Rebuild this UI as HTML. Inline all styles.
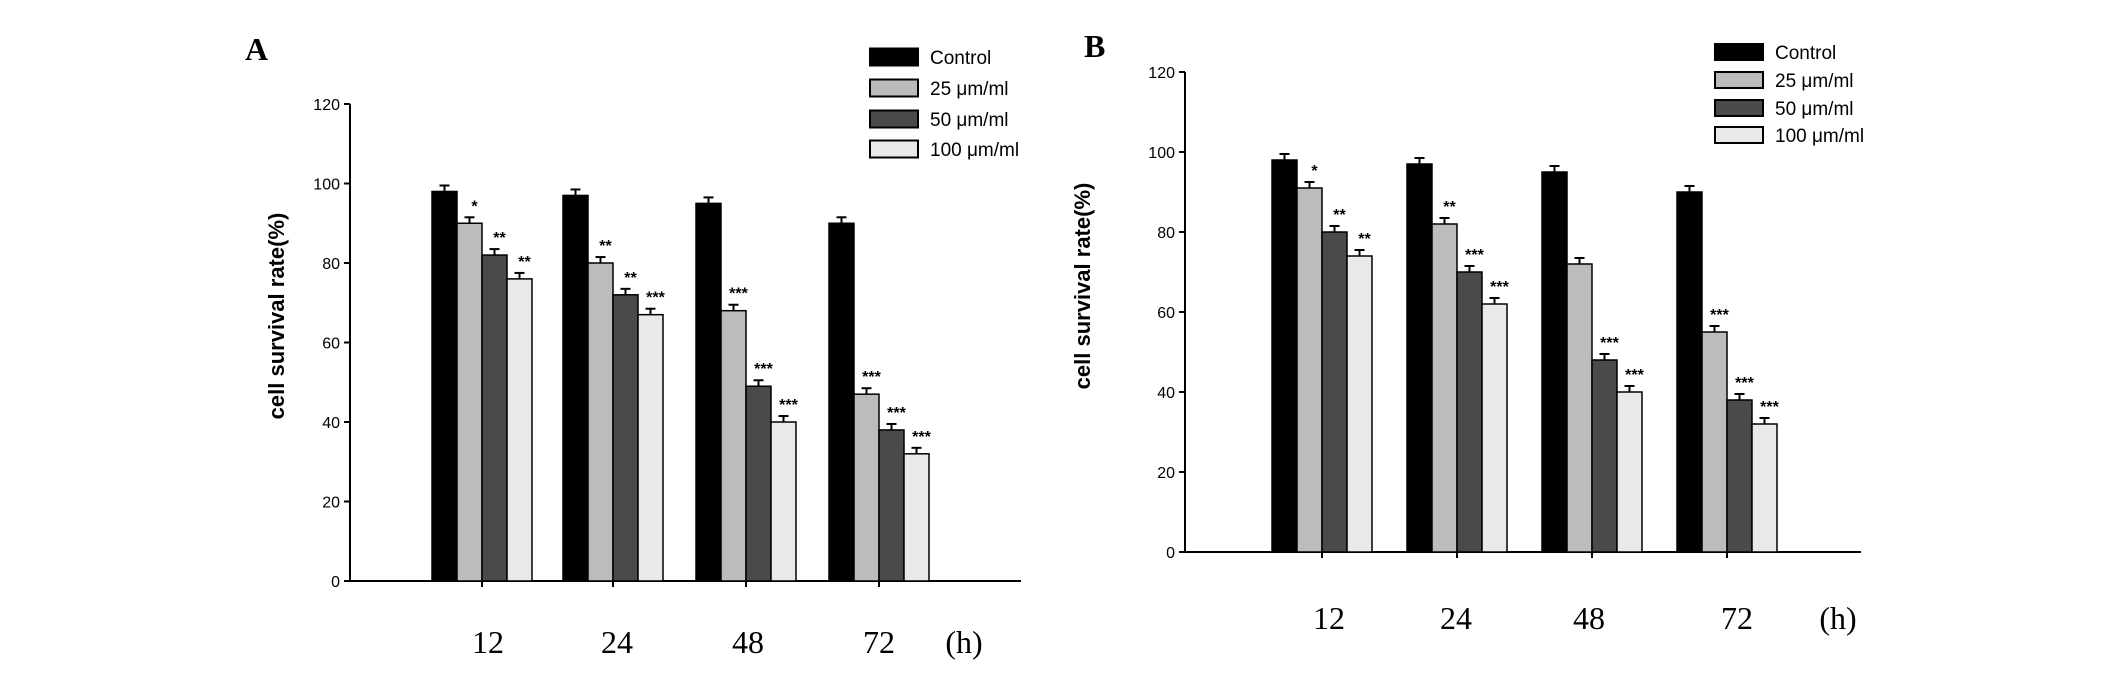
<!DOCTYPE html>
<html><head><meta charset="utf-8"><style>
body{margin:0;background:#fff}
svg{display:block}
</style></head><body>
<svg id="chart" width="2126" height="674" viewBox="0 0 2126 674" xmlns="http://www.w3.org/2000/svg"></svg>
<script>
const categories = ["12","24","48","72"];
const seriesNames = ["Control","25 μm/ml","50 μm/ml","100 μm/ml"];
const yTicks = [0,20,40,60,80,100,120];
const aControl = [98,97,95,90];
const a25 = [90,80,68,47];
const a50 = [82,72,49,38];
const a100 = [76,67,40,32];
const aErr = [1.5,1.5,1.5,1.5];
const aStars25 = ["*","**","***","***"];
const aStars50 = ["**","**","***","***"];
const aStars100 = ["**","***","***","***"];
const bControl = [98,97,95,90];
const b25 = [91,82,72,55];
const b50 = [80,70,48,38];
const b100 = [74,62,40,32];
const bStars25 = ["*","**","","***"];
const bStars50 = ["**","***","***","***"];
const bStars100 = ["**","***","***","***"];

const NS="http://www.w3.org/2000/svg";
const svg=document.getElementById('chart');
function mk(tag,attrs,parent){const e=document.createElementNS(NS,tag);for(const k in attrs)e.setAttribute(k,attrs[k]);(parent||svg).appendChild(e);return e;}
const fills=["#000","#bcbcbc","#4a4a4a","#e9e9e9"];

function panel(p){
  const g=mk('g',{});
  
  
  const y=v=>p.y0-(v/120)*(p.y0-p.y120);
  const L=mk('text',{x:p.lx,y:p.ly,'font-family':'Liberation Serif, serif','font-weight':'bold','font-size':32},g);
  L.textContent=p.id;
  
  
  const ya=mk('line',{x1:p.ax,y1:p.y120,x2:p.ax,y2:p.y0,stroke:'#000','stroke-width':2},g);
  
  
  const xa=mk('line',{x1:p.ax,y1:p.y0,x2:p.xend,y2:p.y0,stroke:'#000','stroke-width':2},g);
  
  
  yTicks.forEach(t=>{
    mk('line',{x1:p.ax-6,y1:y(t),x2:p.ax,y2:y(t),stroke:'#000','stroke-width':2},g);
    const tx=mk('text',{x:p.ax-10,y:y(t)+6,'text-anchor':'end','font-family':'Liberation Sans Narrow, Liberation Sans, sans-serif','font-size':16},g);
    tx.textContent=t;
    
    
  });
  const yt=mk('text',{x:0,y:0,'text-anchor':'middle','font-family':'Liberation Sans, sans-serif','font-weight':'bold','font-size':22,transform:`translate(${p.ytx},${p.yty}) rotate(-90)`},g);
  yt.textContent='cell survival rate(%)';
  
  
  const series=[p.c,p.s25,p.s50,p.s100];
  const stars=[null,p.st25,p.st50,p.st100];
  const bw=25;
  categories.forEach((c,i)=>{
    const cx=p.ticks[i];
    mk('line',{x1:cx,y1:p.y0,x2:cx,y2:p.y0+6,stroke:'#000','stroke-width':2},g);
    series.forEach((s,j)=>{
      const x0=cx-2*bw+j*bw;
      const top=y(s[i]);
      const eb=y(s[i]+aErr[i]);
      mk('line',{x1:x0+bw/2,y1:top,x2:x0+bw/2,y2:eb,stroke:'#000','stroke-width':2},g);
      mk('line',{x1:x0+bw/2-5,y1:eb,x2:x0+bw/2+5,y2:eb,stroke:'#000','stroke-width':2},g);
      const r=mk('rect',{x:x0,y:top,width:bw,height:p.y0-top,fill:fills[j],stroke:'#000','stroke-width':1.5},g);
      
      
      if(stars[j]&&stars[j][i]){
        const st=mk('text',{x:x0+bw/2+5,y:top-12,'text-anchor':'middle','font-family':'Liberation Sans, sans-serif','font-weight':'bold','font-size':16},g);
        st.textContent=stars[j][i];
        
        
      }
    });
    const xl=mk('text',{x:p.lab[i],y:p.labY,'text-anchor':'middle','font-family':'Liberation Serif, serif','font-size':32},g);
    xl.textContent=c;
    
    
  });
  const h=mk('text',{x:p.hx,y:p.labY,'text-anchor':'middle','font-family':'Liberation Serif, serif','font-size':32},g);
  h.textContent='(h)';
  
  
  seriesNames.forEach((n,j)=>{
    const yy=p.legY[j];
    const lr=mk('rect',{x:p.legX,y:yy-p.legH/2,width:48,height:p.legH,fill:fills[j],stroke:'#000','stroke-width':2},g);
    
    
    const lt=mk('text',{x:p.legX+60,y:yy+7,'font-family':'Liberation Sans Narrow, Liberation Sans, sans-serif','font-size':19},g);
    lt.textContent=n;
    
    
  });
}
panel({id:'A',lx:245,ly:60,ax:350,y0:581,y120:104,xend:1021,ticks:[482,613,746,879],lab:[488,617,748,879],labY:653,hx:964,
  ytx:284,yty:316,legX:870,legY:[57,88,119,149],legH:17,c:aControl,s25:a25,s50:a50,s100:a100,st25:aStars25,st50:aStars50,st100:aStars100});
panel({id:'B',lx:1084,ly:57,ax:1185,y0:552,y120:72,xend:1861,ticks:[1322,1457,1592,1727],lab:[1329,1456,1589,1737],labY:629,hx:1838,
  ytx:1090,yty:286,legX:1715,legY:[52,80,108,135],legH:16,c:bControl,s25:b25,s50:b50,s100:b100,st25:bStars25,st50:bStars50,st100:bStars100});
</script>
</body></html>
